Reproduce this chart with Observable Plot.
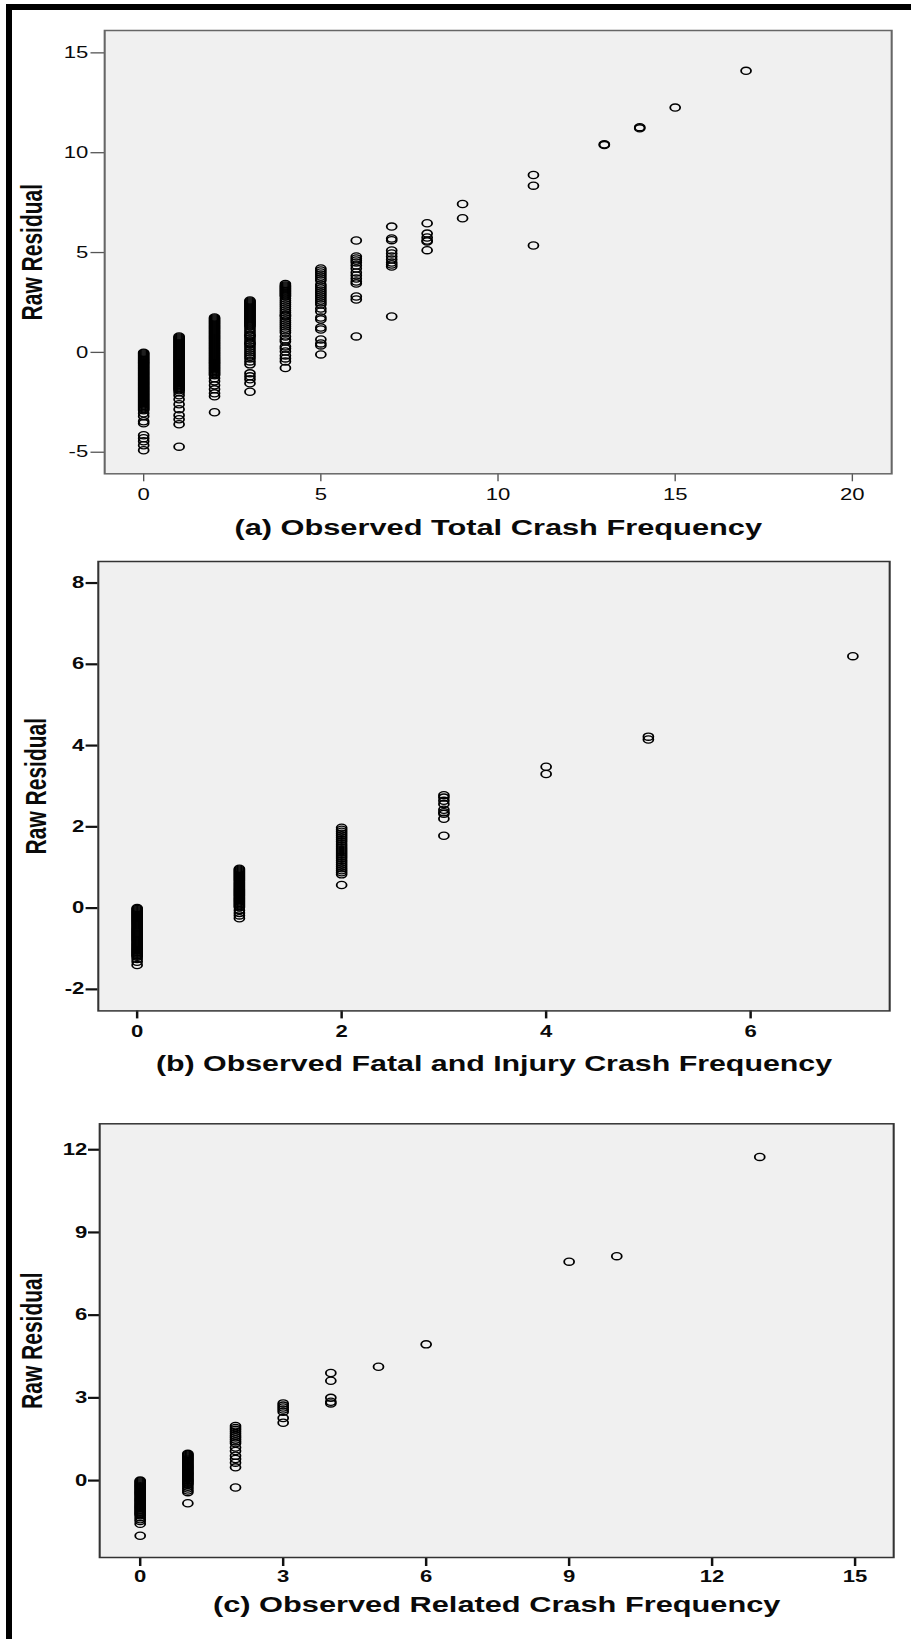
<!DOCTYPE html>
<html><head><meta charset="utf-8">
<script src="https://cdn.jsdelivr.net/npm/d3@7"></script>
<script src="https://cdn.jsdelivr.net/npm/@observablehq/plot@0.6"></script>
<style>
html,body{margin:0;padding:0;background:#fff;}
#page{position:relative;width:911px;height:1639px;background:#fff;overflow:hidden;font-family:"Liberation Sans",Arial,sans-serif;}
#border{position:absolute;left:6px;top:4px;width:940px;height:1700px;border-left:6px solid #000;border-top:6px solid #000;}
.panel{position:absolute;left:0;}
</style></head><body><div id="page"><div id="border"></div></div>
<script>
// ---- text ----
const yLabel = "Raw Residual";
const titleA = "(a) Observed Total Crash Frequency";
const titleB = "(b) Observed Fatal and Injury Crash Frequency";
const titleC = "(c) Observed Related Crash Frequency";

// ---- tick labels ----
const aTicksX = [0, 5, 10, 15, 20];
const aTicksY = [-5, 0, 5, 10, 15];
const bTicksX = [0, 2, 4, 6];
const bTicksY = [-2, 0, 2, 4, 6, 8];
const cTicksX = [0, 3, 6, 9, 12, 15];
const cTicksY = [0, 3, 6, 9, 12];

// ---- panel (a): observed total crash frequency and raw residuals ----
const aObserved = [0, 1, 2, 3, 4, 5, 6, 7, 8, 9, 11, 13, 14, 15, 17];
const aResiduals = [
  [-0.02,-0.05,-0.1,-0.15,-0.2,-0.25,-0.3,-0.35,-0.4,-0.45,-0.5,-0.55,-0.6,-0.65,-0.7,-0.75,-0.8,-0.85,-0.9,-0.95,-1.0,-1.05,-1.1,-1.15,-1.2,-1.25,-1.3,-1.35,-1.4,-1.45,-1.5,-1.55,-1.6,-1.65,-1.7,-1.75,-1.8,-1.85,-1.9,-1.95,-2.0,-2.05,-2.1,-2.15,-2.2,-2.25,-2.3,-2.35,-2.4,-2.45,-2.5,-2.55,-2.6,-2.65,-2.7,-2.75,-2.8,-2.85,-2.9,-3.05,-3.2,-3.45,-3.55,-4.15,-4.3,-4.45,-4.65,-4.9],
  [0.8,0.75,0.7,0.65,0.6,0.55,0.5,0.45,0.4,0.35,0.3,0.25,0.2,0.15,0.1,0.05,0.0,-0.05,-0.1,-0.15,-0.2,-0.25,-0.3,-0.35,-0.4,-0.45,-0.5,-0.55,-0.6,-0.65,-0.7,-0.75,-0.8,-0.85,-0.9,-0.95,-1.0,-1.05,-1.1,-1.15,-1.2,-1.25,-1.3,-1.35,-1.4,-1.45,-1.5,-1.55,-1.6,-1.65,-1.7,-1.75,-1.8,-1.85,-1.9,-2.0,-2.15,-2.35,-2.6,-2.85,-3.15,-3.35,-3.6,-4.72],
  [1.75,1.7,1.65,1.6,1.55,1.5,1.45,1.4,1.35,1.3,1.25,1.2,1.15,1.1,1.05,1.0,0.95,0.9,0.85,0.8,0.75,0.7,0.65,0.6,0.55,0.5,0.45,0.4,0.35,0.3,0.25,0.2,0.15,0.1,0.05,0.0,-0.05,-0.1,-0.15,-0.2,-0.25,-0.3,-0.35,-0.4,-0.45,-0.5,-0.55,-0.6,-0.65,-0.7,-0.75,-0.8,-0.85,-0.9,-0.95,-1.0,-1.05,-1.1,-1.15,-1.3,-1.45,-1.65,-1.85,-2.05,-2.2,-3.0],
  [2.6,2.55,2.5,2.45,2.4,2.35,2.3,2.25,2.2,2.15,2.1,2.05,2.0,1.95,1.9,1.85,1.8,1.75,1.7,1.65,1.6,1.55,1.5,1.45,1.4,1.35,1.3,1.2,1.1,1.0,0.9,0.85,0.8,0.7,0.6,0.5,0.45,0.4,0.3,0.2,0.1,0.0,-0.1,-0.2,-0.3,-0.45,-0.6,-1.05,-1.2,-1.35,-1.55,-1.97],
  [3.42,3.35,3.3,3.25,3.2,3.15,3.1,3.05,3.0,2.95,2.9,2.85,2.8,2.7,2.6,2.5,2.4,2.3,2.2,2.1,2.0,1.9,1.85,1.8,1.7,1.6,1.5,1.4,1.3,1.2,1.1,1.0,0.8,0.65,0.55,0.3,0.2,0.05,-0.15,-0.3,-0.45,-0.78],
  [4.2,4.1,4.0,3.9,3.8,3.7,3.6,3.4,3.3,3.2,3.1,3.0,2.9,2.8,2.7,2.6,2.5,2.4,2.2,2.05,1.75,1.65,1.25,1.15,0.65,0.45,0.35,-0.1],
  [5.6,4.8,4.7,4.6,4.5,4.35,4.2,4.0,3.85,3.7,3.55,3.45,2.8,2.65,0.8],
  [6.3,5.7,5.62,5.1,4.95,4.8,4.65,4.5,4.4,4.3,1.8],
  [6.47,5.95,5.75,5.6,5.55,5.12],
  [7.43,6.72],
  [8.88,8.35,5.35],
  [10.42,10.38],
  [11.28,11.22],
  [12.26],
  [14.1]
];

// ---- panel (b): observed fatal and injury crash frequency ----
const bObserved = [0, 1, 2, 3, 4, 5, 7];
const bResiduals = [
  [0.0,-0.025,-0.05,-0.075,-0.1,-0.125,-0.15,-0.175,-0.2,-0.225,-0.25,-0.275,-0.3,-0.325,-0.35,-0.375,-0.4,-0.425,-0.45,-0.475,-0.5,-0.525,-0.55,-0.575,-0.6,-0.625,-0.65,-0.675,-0.7,-0.725,-0.75,-0.775,-0.8,-0.825,-0.85,-0.875,-0.9,-0.925,-0.95,-0.975,-1.0,-1.025,-1.05,-1.075,-1.1,-1.125,-1.15,-1.175,-1.2,-1.25,-1.32,-1.4],
  [0.97,0.945,0.92,0.895,0.87,0.845,0.82,0.795,0.77,0.745,0.72,0.695,0.67,0.645,0.62,0.595,0.57,0.545,0.52,0.495,0.47,0.445,0.42,0.395,0.37,0.345,0.32,0.295,0.27,0.245,0.22,0.195,0.17,0.145,0.12,0.095,0.07,0.045,0.02,-0.05,-0.12,-0.18,-0.25],
  [1.98,1.93,1.88,1.83,1.78,1.73,1.68,1.63,1.58,1.53,1.48,1.43,1.38,1.33,1.28,1.23,1.18,1.13,1.08,1.03,0.98,0.93,0.88,0.83,0.57],
  [2.78,2.72,2.64,2.56,2.42,2.36,2.32,2.2,1.78],
  [3.48,3.3],
  [4.22,4.15],
  [6.2]
];

// ---- panel (c): observed related crash frequency ----
const cObserved = [0, 1, 2, 3, 4, 5, 6, 9, 10, 13];
const cResiduals = [
  [0.0,-0.035,-0.07,-0.105,-0.14,-0.175,-0.21,-0.245,-0.28,-0.315,-0.35,-0.385,-0.42,-0.455,-0.49,-0.525,-0.56,-0.595,-0.63,-0.665,-0.7,-0.735,-0.77,-0.805,-0.84,-0.875,-0.91,-0.945,-0.98,-1.015,-1.05,-1.085,-1.12,-1.155,-1.19,-1.225,-1.26,-1.33,-1.4,-1.47,-1.57,-2.0],
  [0.97,0.935,0.9,0.865,0.83,0.795,0.76,0.725,0.69,0.655,0.62,0.585,0.55,0.515,0.48,0.445,0.41,0.375,0.34,0.305,0.27,0.235,0.2,0.165,0.13,0.095,0.06,0.025,-0.01,-0.045,-0.08,-0.115,-0.15,-0.22,-0.29,-0.36,-0.42,-0.82],
  [1.98,1.91,1.84,1.77,1.7,1.63,1.56,1.49,1.42,1.35,1.2,1.07,0.9,0.78,0.65,0.48,-0.25],
  [2.8,2.72,2.65,2.58,2.5,2.27,2.1],
  [3.9,3.62,3.0,2.86,2.8],
  [4.13],
  [4.94],
  [7.94],
  [8.14],
  [11.74]
];

// The original figure is stretched horizontally: draw narrow, then stretch.
const S = 1.38;
const PAGE_W = 911;
const FONT = "'Liberation Sans', Arial, Helvetica, sans-serif";

function panel(o) {
  const W = PAGE_W / S;
  const data = o.obs.flatMap((v, i) => o.res[i].map(r => ({observed: v, residual: r})));
  const chart = Plot.plot({
    width: W,
    height: o.height,
    marginLeft: o.ml / S,
    marginRight: o.mr / S,
    marginTop: o.mt,
    marginBottom: o.mb,
    x: {domain: o.xDomain},
    y: {domain: o.yDomain},
    style: {fontFamily: FONT, background: "transparent", overflow: "visible"},
    marks: [
      Plot.frame({fill: "#f0f0f0", stroke: "none"}),
      Plot.axisX({ticks: o.xTicks, tickFormat: d => String(d), tickSize: o.xTickSize, tickPadding: o.xTickPad,
        fontSize: o.tickFont, fontWeight: o.tickWeight, fill: "#0a0a0a", stroke: o.tickColor,
        strokeWidth: o.xTickWidth, label: null}),
      Plot.axisY({ticks: o.yTicks, tickFormat: d => String(d), tickSize: o.yTickSize / S, tickPadding: o.yTickPad / S,
        fontSize: o.tickFont, fontWeight: o.tickWeight, fill: "#0a0a0a", stroke: o.tickColor,
        strokeWidth: o.yTickWidth, label: null}),
      Plot.dot(data, {x: "observed", y: "residual", r: 3.6, stroke: "#000", strokeWidth: 1.3, fill: "none"}),
      Plot.frame({stroke: o.frameColor, strokeWidth: 1.5}),
      Plot.text([yLabel], {frameAnchor: "left", rotate: -90, textAnchor: "middle", lineAnchor: "middle",
        dx: (o.labelX - o.ml) / S, fontSize: 21, fontWeight: "bold", fill: "#0a0a0a"}),
      Plot.text([o.title], {frameAnchor: "bottom", textAnchor: "middle", lineAnchor: "middle",
        dy: o.titleDy, fontSize: o.titleFont, fontWeight: "bold", fill: "#0a0a0a"})
    ]
  });
  chart.setAttribute("viewBox", `0 0 ${W} ${o.height}`);
  chart.setAttribute("preserveAspectRatio", "none");
  chart.setAttribute("width", PAGE_W);
  chart.setAttribute("height", o.height);
  chart.style.width = PAGE_W + "px";
  chart.style.height = o.height + "px";
  chart.style.maxWidth = "none";
  const wrap = document.createElement("div");
  wrap.className = "panel";
  wrap.style.top = o.top + "px";
  wrap.appendChild(chart);
  document.getElementById("page").appendChild(wrap);
}

panel({
  top: 0, height: 548, ml: 104, mr: 20, mt: 30, mb: 74.7,
  xDomain: [-1.10, 21.11], yDomain: [-6.08, 16.12],
  xTicks: aTicksX, yTicks: aTicksY, obs: aObserved, res: aResiduals,
  title: titleA, titleDy: 54.3, titleFont: 22.3, labelX: 32,
  xTickSize: 8, xTickPad: 7, yTickSize: 13.5, yTickPad: 3,
  tickFont: 16, tickWeight: "normal", tickColor: "#555", xTickWidth: 1.0, yTickWidth: 1.3,
  frameColor: "#666"
});
panel({
  top: 548, height: 537, ml: 97.6, mr: 22, mt: 13, mb: 74.6,
  xDomain: [-0.38, 7.36], yDomain: [-2.53, 8.53],
  xTicks: bTicksX, yTicks: bTicksY, obs: bObserved, res: bResiduals,
  title: titleB, titleDy: 53.2, titleFont: 22, labelX: 36,
  xTickSize: 8, xTickPad: 7, yTickSize: 12, yTickPad: 2,
  tickFont: 16, tickWeight: "bold", tickColor: "#111", xTickWidth: 1.8, yTickWidth: 2.2,
  frameColor: "#333"
});
panel({
  top: 1085, height: 554, ml: 99, mr: 18, mt: 38.3, mb: 82,
  xDomain: [-0.85, 15.81], yDomain: [-2.79, 12.94],
  xTicks: cTicksX, yTicks: cTicksY, obs: cObserved, res: cResiduals,
  title: titleC, titleDy: 47.2, titleFont: 22.3, labelX: 32,
  xTickSize: 9, xTickPad: 4, yTickSize: 11, yTickPad: 1.5,
  tickFont: 16, tickWeight: "bold", tickColor: "#111", xTickWidth: 1.8, yTickWidth: 2.2,
  frameColor: "#333"
});
</script>
</body></html>
